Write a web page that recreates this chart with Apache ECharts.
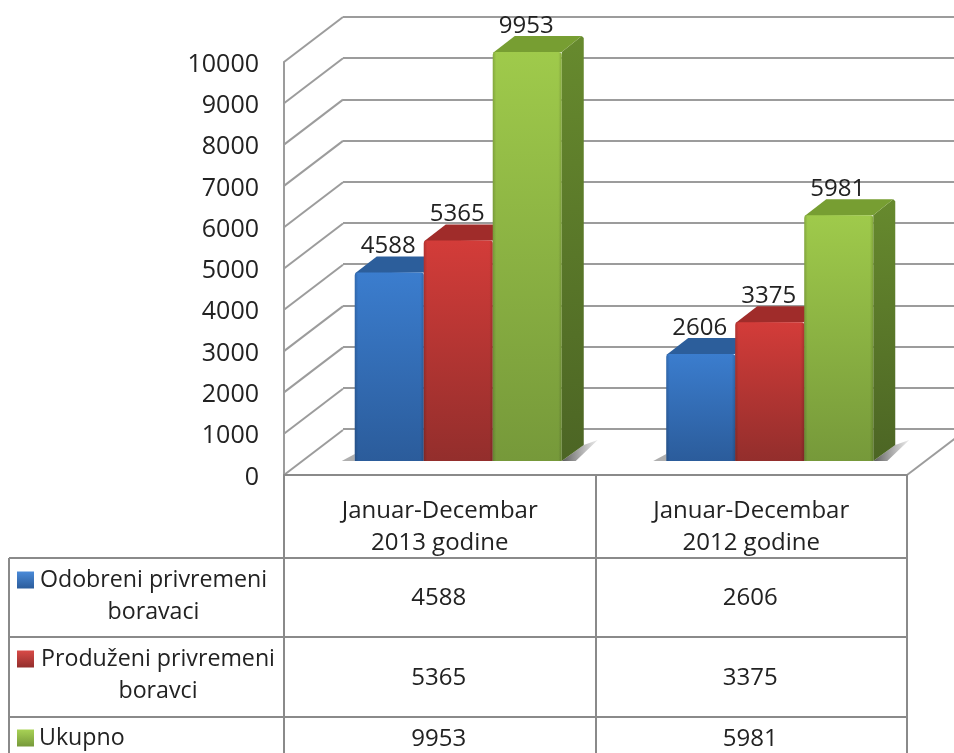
<!DOCTYPE html>
<html><head><meta charset="utf-8">
<style>html,body{margin:0;padding:0;background:#fff}#c{width:954px;height:753px;filter:blur(0.45px)}</style>
<script src="https://cdn.jsdelivr.net/npm/echarts@6/dist/echarts.min.js"></script>
</head><body><div id="c"></div>
<script>
const categories = ['Januar-Decembar\n2013 godine', 'Januar-Decembar\n2012 godine'];
const seriesNames = ['Odobreni privremeni boravaci', 'Produženi privremeni boravci', 'Ukupno'];
const odobreni = [4588, 2606];
const produzeni = [5365, 3375];
const ukupno = [9953, 5981];
const tickValues = [0, 1000, 2000, 3000, 4000, 5000, 6000, 7000, 8000, 9000, 10000];

const FONT = '"Open Sans"', FS = 24, LEG_FS = 23.2, AXIS_FS = 25, TXT = '#222222', LINE = '#9c9c9c', TLINE = '#8a8a8a';
const wallDx = 59, wallDy = 45;
const barDx = 18.5, barDy = 14, depthDx = 22, depthDy = 16;
const barFrac = 69 / 311.5, perspective = 0.995;
const grad = (a, b) => ({ type: 'linear', x: 0, y: 0, x2: 0, y2: 1, colorStops: [{ offset: 0, color: a }, { offset: 1, color: b }] });
const edgeShade = { type: 'linear', x: 0, y: 0, x2: 1, y2: 0, colorStops: [
  { offset: 0, color: 'rgba(0,0,0,0.16)' }, { offset: 0.05, color: 'rgba(0,0,0,0)' },
  { offset: 0.95, color: 'rgba(0,0,0,0)' }, { offset: 1, color: 'rgba(0,0,0,0.16)' }] };
const palette = [
  { front: grad('#3b7dce', '#2b5c9b'), top: '#2c5e9b', side: grad('#2a5790', '#1f4270'), icon: grad('#4a8ad8', '#2b5c9b') },
  { front: grad('#d33c39', '#932e2c'), top: '#a02c2a', side: grad('#8e2a28', '#6d201f'), icon: grad('#d84a47', '#932e2c') },
  { front: grad('#9fca4b', '#76993a'), top: '#779e32', side: grad('#678a2e', '#4c6524'), icon: grad('#a8d255', '#76993a') }
];

function barRender(si) {
  return function (params, api) {
    const val = api.value(1);
    const band = api.size([1, 0])[0];
    const w = band * barFrac;
    const base = api.coord([api.value(0), 0]);
    const topP = api.coord([api.value(0), val]);
    const x = base[0] + barDx + (si - 1) * w - w / 2;
    const y0 = base[1] - barDy;
    const y1 = y0 - (base[1] - topP[1]) * perspective;
    const p = palette[si];
    return { type: 'group', children: [
      { type: 'polygon', shape: { points: [[x + w, y0], [x + w + depthDx, y0 - depthDy], [x + w + depthDx, y1 - depthDy + 2], [x + w + depthDx - 2, y1 - depthDy], [x + w, y1]] }, style: { fill: p.side } },
      { type: 'polygon', shape: { points: [[x, y1 + 1], [x + depthDx, y1 - depthDy], [x + w + depthDx - 2, y1 - depthDy], [x + w, y1]] }, style: { fill: p.top } },
      { type: 'rect', shape: { x: x, y: y1, width: w, height: y0 - y1, r: [3, 3, 0, 0] }, style: { fill: p.front } },
      { type: 'rect', shape: { x: x, y: y1, width: w, height: y0 - y1, r: [3, 3, 0, 0] }, style: { fill: edgeShade } },
      { type: 'text', z2: 10, style: { text: String(val), x: x + w / 2 - 1, y: y1 - 26, align: 'center', verticalAlign: 'middle', font: FS + 'px ' + FONT, fill: TXT } }
    ] };
  };
}

function wallRender(params, api) {
  const t = api.value(1);
  const p = api.coord([0, t]);
  const cs = params.coordSys;
  const kids = [{ type: 'line', shape: { x1: cs.x, y1: p[1], x2: cs.x + wallDx, y2: p[1] - wallDy }, style: { stroke: LINE, lineWidth: 2 } }];
  if (t === 0) kids.push({ type: 'line', shape: { x1: cs.x + cs.width, y1: p[1], x2: cs.x + cs.width + wallDx, y2: p[1] - wallDy }, style: { stroke: LINE, lineWidth: 2 } });
  return { type: 'group', children: kids };
}

function shadowRender(params, api) {
  const band = api.size([1, 0])[0];
  const w = band * barFrac;
  const b = api.coord([api.value(0), 0]);
  const l = b[0] + barDx - 1.5 * w, r = b[0] + barDx + 1.5 * w, y = b[1] - barDy;
  const fill = { type: 'linear', x: 0, y: 0, x2: 1, y2: 0, colorStops: [{ offset: 0, color: '#5a5a5a' }, { offset: 1, color: 'rgba(120,120,120,0.15)' }] };
  return { type: 'group', children: [
    { type: 'polygon', shape: { points: [[r, y], [r + depthDx, y - 16], [r + 36, y - 21], [r + 14, y]] }, style: { fill: fill } },
    { type: 'polygon', shape: { points: [[l, y], [l, y - 7], [l - 13, y]] }, style: { fill: 'rgba(110,110,110,0.55)' } }
  ] };
}

const chart = echarts.init(document.getElementById('c'), null, { renderer: 'canvas' });
const values = [odobreni, produzeni, ukupno];
const legendLines = {};
legendLines[seriesNames[0]] = '{b| }\n{r1|Odobreni privremeni}\n{r1|boravaci}';
legendLines[seriesNames[1]] = '{b| }\n{r2|Produženi privremeni}\n{r2|boravci}';
legendLines[seriesNames[2]] = '{b| }\n{r3|Ukupno}\n{b| }';
const lineStyleRich = { fontFamily: FONT, fontSize: LEG_FS, lineHeight: 32, color: TXT };

const option = {
  animation: false,
  backgroundColor: '#ffffff',
  textStyle: { fontFamily: FONT },
  grid: [
    { left: 284, top: 62, width: 623, height: 413 },
    { left: 343, top: 17, width: 611, height: 412 }
  ],
  xAxis: [
    { type: 'category', gridIndex: 0, data: categories, z: 5,
      axisLine: { show: true, lineStyle: { color: TLINE, width: 2 } }, axisTick: { show: false },
      axisLabel: { fontFamily: FONT, fontSize: FS, color: TXT, lineHeight: 32, margin: 20, interval: 0 } },
    { type: 'category', gridIndex: 1, data: categories, show: false }
  ],
  yAxis: [
    { type: 'value', gridIndex: 0, min: 0, max: 10000, interval: 1000,
      axisLine: { show: true, lineStyle: { color: LINE, width: 2 } }, axisTick: { show: false }, splitLine: { show: false },
      axisLabel: { fontFamily: FONT, fontSize: AXIS_FS, color: TXT, margin: 25, verticalAlign: 'top', lineHeight: 5, formatter: v => String(v) } },
    { type: 'value', gridIndex: 1, min: 0, max: 10000, interval: 1000,
      axisLine: { show: false }, axisTick: { show: false }, axisLabel: { show: false },
      splitLine: { show: true, lineStyle: { color: LINE, width: 2 } } }
  ],
  legend: {
    orient: 'vertical', left: 17, top: 532, height: 400, itemWidth: 17, itemHeight: 17, itemGap: -17, padding: 0,
    selectedMode: false,
    data: seriesNames.map(n => ({ name: n, icon: 'rect' })),
    formatter: n => legendLines[n],
    textStyle: { fontFamily: FONT, fontSize: LEG_FS, color: TXT, lineHeight: 32,
      rich: {
        b: lineStyleRich,
        r1: Object.assign({ width: 229, align: 'center' }, lineStyleRich),
        r2: Object.assign({ width: 238, align: 'center' }, lineStyleRich),
        r3: Object.assign({ align: 'left' }, lineStyleRich)
      } }
  },
  series: [
    { type: 'custom', name: 'walls', xAxisIndex: 0, yAxisIndex: 0, z: 1, silent: true, renderItem: wallRender,
      data: tickValues.map(t => [0, t]), encode: { x: 0, y: 1 } },
    { type: 'custom', name: 'shadow', xAxisIndex: 0, yAxisIndex: 0, z: 2, silent: true, renderItem: shadowRender,
      data: categories.map((c, i) => [i, 0]), encode: { x: 0, y: 1 } }
  ].concat(seriesNames.map((n, si) => ({
    type: 'custom', name: n, xAxisIndex: 0, yAxisIndex: 0, z: 3 + si,
    itemStyle: { color: palette[si].icon },
    renderItem: barRender(si),
    data: values[si].map((v, i) => [i, v]), encode: { x: 0, y: 1 }
  })))
};
chart.setOption(option);

const colX = [0, 1].map(i => chart.convertToPixel({ xAxisIndex: 0 }, i));
const rowY = [598, 678, 739];
const frame = [
  [284, 475, 284, 753], [596, 475, 596, 753], [907, 475, 907, 753], [9, 558, 9, 753],
  [9, 558, 907, 558], [9, 637, 907, 637], [9, 717, 907, 717]
];
const graphic = frame.map(l => ({ type: 'line', silent: true, z: 4, shape: { x1: l[0], y1: l[1], x2: l[2], y2: l[3] }, style: { stroke: TLINE, lineWidth: 2 } }));
values.forEach((vals, r) => vals.forEach((v, c) => graphic.push({
  type: 'text', silent: true, z: 5, style: { text: String(v), x: colX[c] - 1, y: rowY[r], align: 'center', verticalAlign: 'middle', font: FS + 'px ' + FONT, fill: TXT }
})));
chart.setOption({ graphic: graphic });
</script></body></html>
